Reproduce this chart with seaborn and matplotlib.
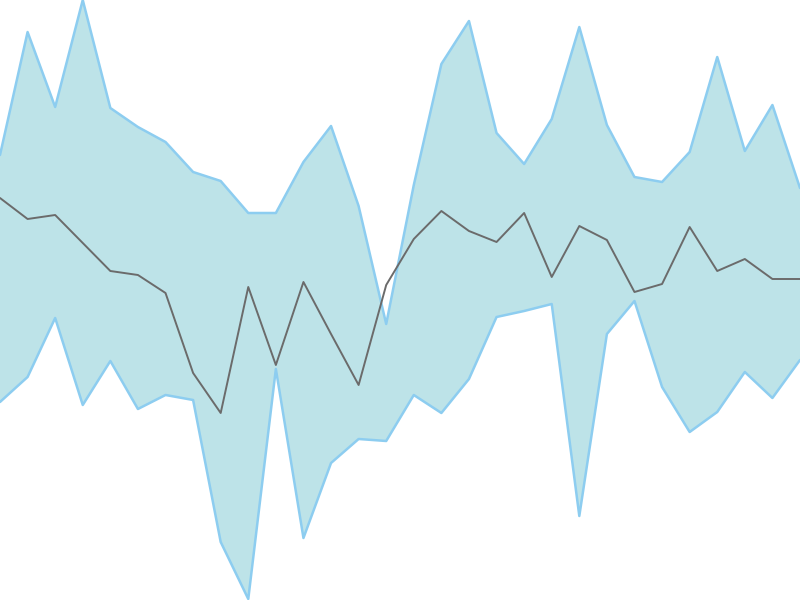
import numpy as np
import pandas as pd
import seaborn as sns
import matplotlib
matplotlib.use("Agg")
import matplotlib.pyplot as plt

# values (0 = bottom edge, 600 = top edge)
steps = list(range(30))
upper = [445, 568, 493, 600, 492, 473, 458, 428, 419, 387,
         387, 438, 474, 394, 276, 415, 536, 579, 467, 436,
         481, 573, 475, 423, 418, 448, 543, 449, 495, 412]
lower = [198, 223, 282, 195, 239, 191, 205, 200, 58, 1,
         231, 62, 137, 161, 159, 205, 187, 221, 283, 289,
         296, 84, 266, 299, 213, 168, 188, 228, 202, 240]
middle = [402, 381, 385, 357, 329, 325, 307, 227, 187, 313,
          235, 318, 266, 215, 315, 361, 389, 369, 358, 387,
          323, 374, 360, 308, 316, 373, 329, 341, 321, 321]

df = pd.DataFrame({"step": steps, "upper": upper, "lower": lower, "middle": middle})

sns.set_style("white")
fig = plt.figure(figsize=(8, 6), dpi=100)
ax = fig.add_axes([0, 0, 1, 1])

# shaded band between upper and lower
ax.fill_between(df["step"], df["lower"], df["upper"], color="#bde3e8", linewidth=0)
sns.lineplot(data=df, x="step", y="upper", ax=ax, color="#8dcdf0", linewidth=1.8)
sns.lineplot(data=df, x="step", y="lower", ax=ax, color="#8dcdf0", linewidth=1.8)
sns.lineplot(data=df, x="step", y="middle", ax=ax, color="#6b6b6b", linewidth=1.4)

ax.set_xlim(0, 29)
ax.set_ylim(0, 600)
ax.axis("off")

fig.savefig("out.png", dpi=100)
